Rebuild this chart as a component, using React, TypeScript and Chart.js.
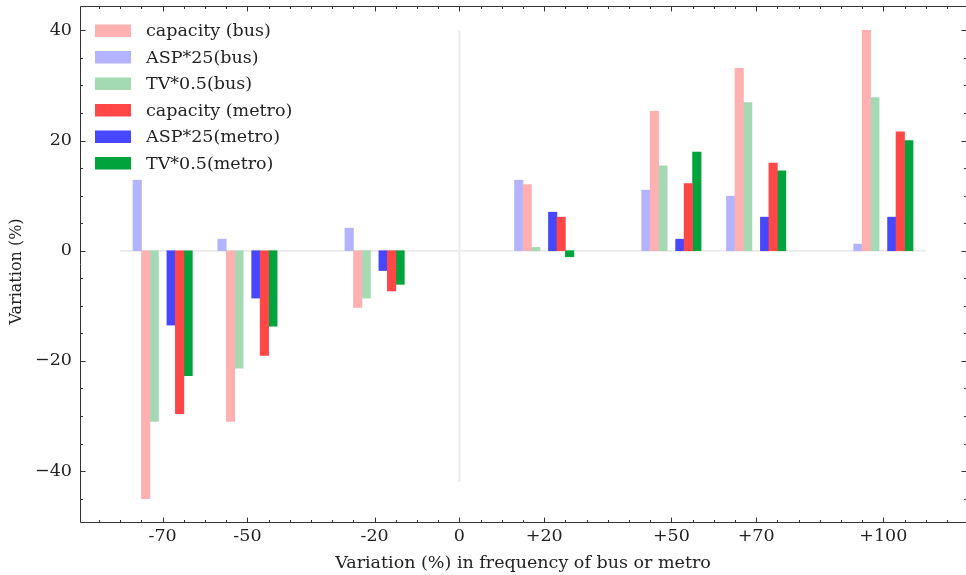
import React, { useEffect, useRef } from 'react';
import { Chart, registerables } from 'chart.js';

Chart.register(...registerables);

// ---- data ----
const frequencies = [-70, -50, -20, 20, 50, 70, 100];
const capacityBus = [-45, -31, -10.3, 12.0, 25.3, 33.1, 40.0];
const aspBus = [12.8, 2.1, 4.1, 12.8, 11.0, 9.9, 1.2];
const tvBus = [-31, -21.3, -8.6, 0.6, 15.4, 26.9, 27.8];
const capacityMetro = [-29.6, -19.0, -7.3, 6.1, 12.2, 15.9, 21.6];
const aspMetro = [-13.5, -8.6, -3.6, 7.0, 2.1, 6.1, 6.1];
const tvMetro = [-22.7, -13.7, -6.1, -1.1, 17.9, 14.5, 20.0];

const xTickValues = [-70, -50, -20, 0, 20, 50, 70, 100];
const yTickValues = [-40, -20, 0, 20, 40];

// reference lines
const hLineX = [-80, 110];
const vLineY = [40, -42];

// axis limits
const xMin = -89.5;
const xMax = 119.5;
const yMin = -49.25;
const yMax = 44.25;
const minorStep = 5;

const yTitle = 'Variation (%)';
const xTitle = 'Variation (%) in frequency of bus or metro';

const FONT = '"DejaVu Serif", serif';
const TEXT = '#222222';
const FS = 17.5;

const series = [
  { label: 'capacity (bus)', values: capacityBus, color: '#ffb1b1', offset: -4 },
  { label: 'ASP*25(bus)', values: aspBus, color: '#b3b3ff', offset: -6 },
  { label: 'TV*0.5(bus)', values: tvBus, color: '#a3d9b3', offset: -2 },
  { label: 'capacity (metro)', values: capacityMetro, color: '#ff4747', offset: 4 },
  { label: 'ASP*25(metro)', values: aspMetro, color: '#4747ff', offset: 2 },
  { label: 'TV*0.5(metro)', values: tvMetro, color: '#00a33c', offset: 6 },
];

const framePlugin = {
  id: 'frameTicksLegend',
  afterDatasetsDraw(chart: any) {
    const { ctx, chartArea: a, scales } = chart;
    const xs = scales.x;
    const ys = scales.y;
    const L = Math.round(a.left) + 0.5;
    const R = Math.round(a.right) + 0.5;
    const T = Math.round(a.top) - 0.5;
    const B = Math.round(a.bottom) + 0.5;
    ctx.save();
    ctx.strokeStyle = '#333333';
    ctx.lineWidth = 1;
    ctx.beginPath();
    ctx.moveTo(L, T); ctx.lineTo(R, T); ctx.lineTo(R, B); ctx.lineTo(L, B); ctx.closePath();
    ctx.stroke();

    ctx.beginPath();
    const startX = Math.ceil(xMin / minorStep) * minorStep;
    for (let v = startX; v <= xMax; v += minorStep) {
      const len = xTickValues.includes(v) ? 5 : 2.5;
      const px = Math.round(xs.getPixelForValue(v)) + 0.5;
      ctx.moveTo(px, B); ctx.lineTo(px, B - len);
      ctx.moveTo(px, T); ctx.lineTo(px, T + len);
    }
    const startY = Math.ceil(yMin / minorStep) * minorStep;
    for (let v = startY; v <= yMax; v += minorStep) {
      const len = yTickValues.includes(v) ? 5 : 2.5;
      const py = Math.round(ys.getPixelForValue(v)) + 0.5;
      ctx.moveTo(L, py); ctx.lineTo(L + len, py);
      ctx.moveTo(R, py); ctx.lineTo(R - len, py);
    }
    ctx.stroke();

    // y-axis title
    ctx.save();
    ctx.translate(17, (a.top + a.bottom) / 2 + 7);
    ctx.rotate(-Math.PI / 2);
    ctx.font = `16px ${FONT}`;
    ctx.fillStyle = TEXT;
    ctx.textAlign = 'center';
    ctx.textBaseline = 'middle';
    ctx.fillText(yTitle, 0, 0);
    ctx.restore();

    // legend
    const items = chart.data.datasets.filter((d: any) => d.type !== 'line');
    ctx.font = `${FS}px ${FONT}`;
    ctx.textBaseline = 'middle';
    ctx.textAlign = 'left';
    items.forEach((d: any, i: number) => {
      const cy = a.top + 23.5 + i * 26.5;
      ctx.fillStyle = d.backgroundColor;
      ctx.fillRect(a.left + 15, cy - 6, 36, 12.5);
      ctx.fillStyle = TEXT;
      ctx.fillText(d.label, a.left + 66, cy + 1);
    });
    ctx.restore();
  },
};

export default function App() {
  const ref = useRef<HTMLCanvasElement | null>(null);

  useEffect(() => {
    document.body.style.margin = '0';
    const canvas = ref.current;
    if (!canvas) return;

    const barSets = series.map((s) => ({
      type: 'bar' as const,
      label: s.label,
      data: frequencies.map((f, i) => ({ x: f + s.offset, y: s.values[i] })),
      backgroundColor: s.color,
      borderWidth: 0,
      grouped: false,
      barPercentage: 1,
      categoryPercentage: 1,
      order: 1,
    }));

    const lineStyle = {
      type: 'line' as const,
      borderColor: '#ebebeb',
      borderWidth: 2,
      pointRadius: 0,
      fill: false,
      order: 10,
    };

    const chart = new Chart(canvas, {
      type: 'bar',
      data: {
        datasets: [
          ...barSets,
          { ...lineStyle, label: 'h', data: hLineX.map((x) => ({ x, y: 0 })) },
          { ...lineStyle, label: 'v', data: vLineY.map((y) => ({ x: 0, y })) },
        ] as any,
      },
      options: {
        responsive: false,
        animation: false,
        devicePixelRatio: 1,
        layout: { padding: { top: 7, right: 0, left: 0, bottom: 0 } },
        plugins: { legend: { display: false }, tooltip: { enabled: false } },
        scales: {
          x: {
            type: 'linear',
            min: xMin,
            max: xMax,
            offset: false,
            grid: { display: false, drawTicks: false, offset: false },
            border: { display: false },
            afterBuildTicks: (scale: any) => {
              scale.ticks = xTickValues.map((value) => ({ value }));
            },
            afterFit: (scale: any) => {
              scale.height = 53;
              scale.paddingLeft = 0;
              scale.paddingRight = 0;
            },
            ticks: {
              padding: 4,
              maxRotation: 0,
              autoSkip: false,
              color: TEXT,
              font: { family: FONT, size: FS },
              callback: (v: any) => (v > 0 ? `+${v}` : `${v}`),
            },
            title: {
              display: true,
              text: xTitle,
              color: TEXT,
              font: { family: FONT, size: FS },
              padding: { top: 0, bottom: 1 },
            },
          },
          y: {
            type: 'linear',
            min: yMin,
            max: yMax,
            grid: { display: false, drawTicks: false },
            border: { display: false },
            afterBuildTicks: (scale: any) => {
              scale.ticks = yTickValues.map((value) => ({ value }));
            },
            afterFit: (scale: any) => {
              scale.width = 80;
              scale.paddingTop = 0;
              scale.paddingBottom = 0;
            },
            ticks: {
              padding: 8,
              color: TEXT,
              font: { family: FONT, size: FS },
              callback: (v: any) => (v < 0 ? `\u2212${Math.abs(v)}` : `${v}`),
            },
            title: { display: false },
          },
        },
      } as any,
      plugins: [framePlugin],
    });

    return () => chart.destroy();
  }, []);

  return (
    <div style={{ width: 966, height: 575 }}>
      <canvas ref={ref} width={966} height={575} style={{ display: 'block' }} />
    </div>
  );
}
